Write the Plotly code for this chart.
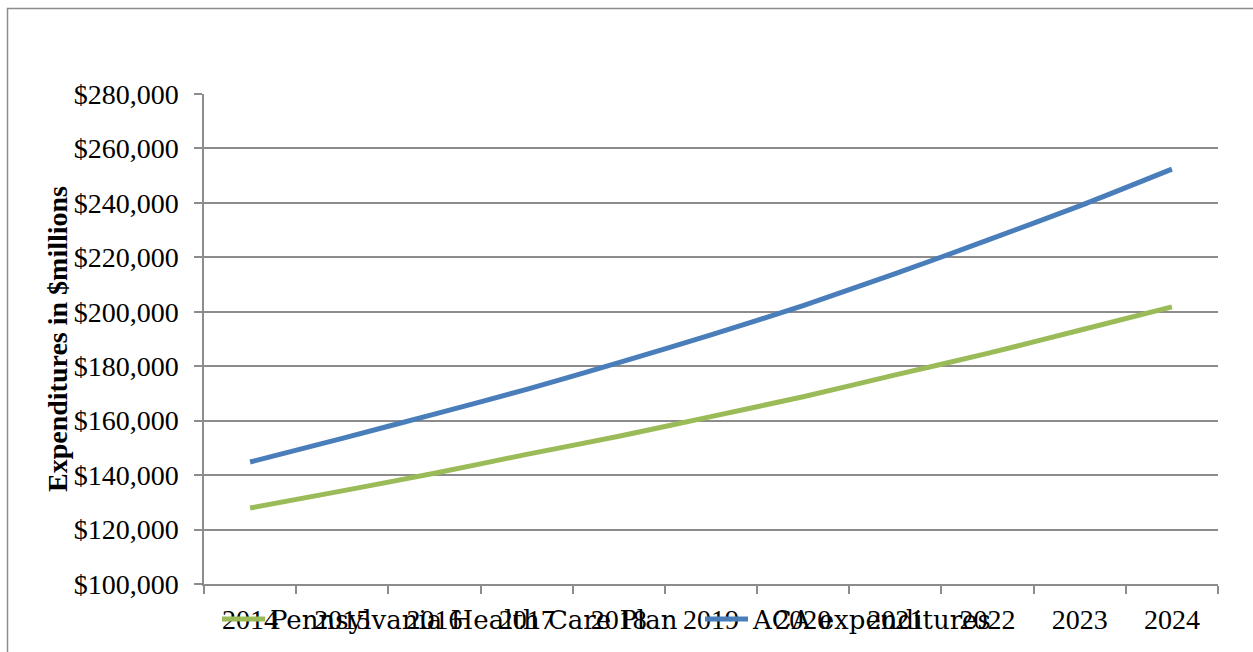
import plotly.graph_objects as go

years = ["2014", "2015", "2016", "2017", "2018", "2019", "2020", "2021", "2022", "2023", "2024"]
pa_plan = [127900, 134200, 140700, 147600, 154300, 161500, 168800, 176800, 184700, 193200, 201800]
aca_exp = [144800, 153500, 162400, 171500, 181300, 191500, 202300, 214000, 226300, 238900, 252400]
y_ticks = [100000, 120000, 140000, 160000, 180000, 200000, 220000, 240000, 260000, 280000]
y_labels = ["$" + format(v, ",d") for v in y_ticks]

FONT = "Liberation Serif"
LEG_FONT = "DejaVu Serif"
GRID = "#8c8c8c"

fig = go.Figure()
fig.add_trace(go.Scatter(x=years, y=pa_plan, mode="lines", name="Pennsylvania Health Care Plan",
                         line=dict(color="#9BBB59", width=5, shape="spline", smoothing=0.6)))
fig.add_trace(go.Scatter(x=years, y=aca_exp, mode="lines", name="ACA expenditures",
                         line=dict(color="#4A7EBB", width=5, shape="spline", smoothing=0.6)))

fig.update_layout(
    width=1253, height=652,
    margin=dict(l=204, r=35, t=94, b=68, autoexpand=False),
    paper_bgcolor="white", plot_bgcolor="white",
    font=dict(family=FONT, size=28, color="black"),
    showlegend=True,
    legend=dict(orientation="h", x=(217 - 204) / 1014, xanchor="left",
                y=(584 - 619) / 490, yanchor="middle",
                bgcolor="rgba(0,0,0,0)", font=dict(family=LEG_FONT, size=26),
                itemwidth=43, entrywidth=425, entrywidthmode="pixels", traceorder="normal"),
    xaxis=dict(type="category", tickson="boundaries", ticks="outside", ticklen=8,
               tickcolor=GRID, tickwidth=1.5, showline=True, linecolor=GRID, linewidth=1.5,
               showgrid=False, tickfont=dict(family=FONT, size=28), ticklabelstandoff=10,
               range=[-0.5, 10.5], fixedrange=True),
    yaxis=dict(range=[100000, 280000], tickmode="array", tickvals=y_ticks, ticktext=y_labels,
               ticks="outside", ticklen=8, tickcolor=GRID, tickwidth=1.5,
               showline=True, linecolor=GRID, linewidth=1.5,
               showgrid=True, gridcolor=GRID, gridwidth=1.5, zeroline=False,
               tickfont=dict(family=FONT, size=28), ticklabelstandoff=10),
)

fig.add_annotation(text="<b>Expenditures in $millions</b>", xref="paper", yref="paper",
                   x=(57 - 204) / 1014, y=(584 - 339) / 490, xanchor="center", yanchor="middle",
                   textangle=-90, showarrow=False, font=dict(family=FONT, size=28, color="black"))

fig.add_shape(type="rect", xref="paper", yref="paper",
              x0=(7.5 - 204) / 1014, x1=1.3,
              y0=-0.5, y1=(584 - 8.5) / 490,
              line=dict(color="#8c8c8c", width=1.5), fillcolor="rgba(0,0,0,0)", layer="below")

fig.write_html("out.html")
